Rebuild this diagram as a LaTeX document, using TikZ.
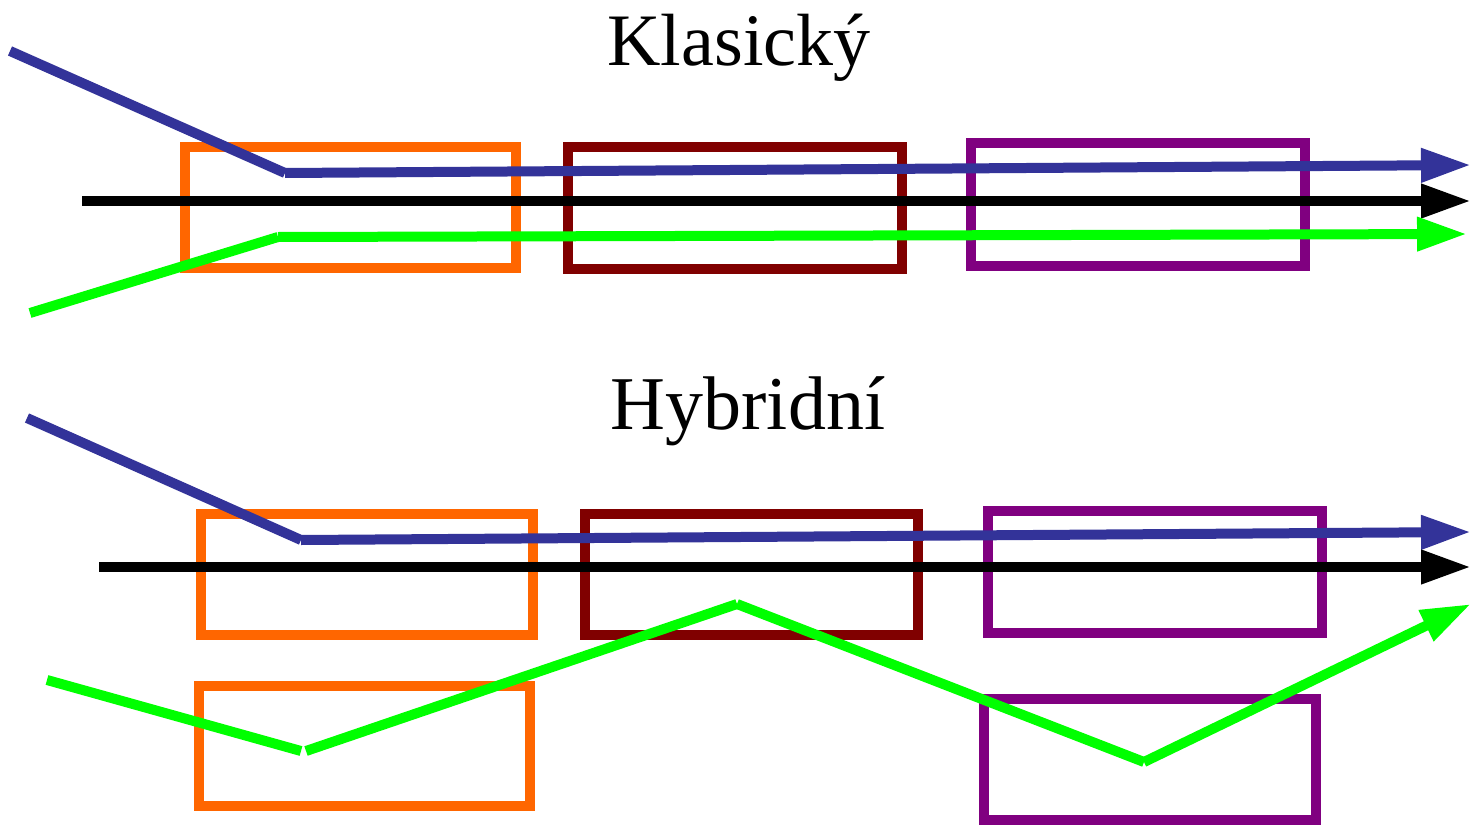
\documentclass[tikz,border=0pt]{standalone}
\usepackage{fontspec}
\setmainfont{Liberation Serif}
\usetikzlibrary{arrows.meta}
\definecolor{cblue}{RGB}{51,51,153}
\definecolor{corange}{RGB}{255,102,0}
\definecolor{cdred}{RGB}{128,0,0}
\definecolor{cpurple}{RGB}{128,0,128}
\definecolor{cgreen}{RGB}{0,255,0}
\tikzset{
  box/.style={line width=10pt, line join=miter},
  ln/.style={line width=10pt, line cap=butt},
  arr/.style={ln, -{Triangle[length=50pt,width=32pt]}},
  title/.style={anchor=base, inner sep=0pt, font=\fontsize{74}{80}\selectfont}
}
\begin{document}
\begin{tikzpicture}[x=1pt,y=-1pt]
\useasboundingbox (0,0) rectangle (1471,824);
% titles
\node[title] (t1) at (739,66) {Klasický};
\node[title, font=\fontsize{76}{80}\selectfont] (t2) at (748,429) {Hybridní};
% top boxes
\draw[box,corange] (185,147) rectangle (516,268);
\draw[box,cdred] (568,147) rectangle (902,269);
\draw[box,cpurple] (971,143) rectangle (1305,266);
% top lines
\coordinate (b1s) at (10,51);
\coordinate (b1m) at (285,173);
\coordinate (b1e) at (1471,165);
\coordinate (k1s) at (82,201);
\coordinate (k1e) at (1471,201);
\coordinate (g1s) at (30,313);
\coordinate (g1m) at (278,237);
\coordinate (g1e) at (1467,234);
\draw[ln,cblue] (b1s) -- (b1m);
\draw[arr,cblue] (b1m) -- (b1e);
\draw[arr,black] (k1s) -- (k1e);
\draw[ln,cgreen] (g1s) -- (g1m);
\draw[arr,cgreen] (g1m) -- (g1e);
% bottom boxes
\draw[box,corange] (201,514) rectangle (533,635);
\draw[box,cdred] (585,514) rectangle (918,635);
\draw[box,cpurple] (988,511) rectangle (1322,633);
\draw[box,corange] (199,686) rectangle (530,806);
\draw[box,cpurple] (984,699) rectangle (1316,820);
% bottom lines
\coordinate (b2s) at (27,418);
\coordinate (b2m) at (301,540);
\coordinate (b2e) at (1471,532);
\coordinate (k2s) at (99,567);
\coordinate (k2e) at (1471,567);
\coordinate (g2a) at (47,680);
\coordinate (g2b) at (301,751);
\coordinate (g2c) at (306,751);
\coordinate (g2d) at (737,604);
\coordinate (g2e) at (1144,762);
\coordinate (g2f) at (1471,604);
\draw[ln,cblue] (b2s) -- (b2m);
\draw[arr,cblue] (b2m) -- (b2e);
\draw[arr,black] (k2s) -- (k2e);
\draw[ln,cgreen] (g2a) -- (g2b);
\draw[ln,cgreen] (g2c) -- (g2d);
\draw[ln,cgreen] (g2d) -- (g2e);
\draw[arr,cgreen] (g2e) -- (g2f);
\end{tikzpicture}
\end{document}
